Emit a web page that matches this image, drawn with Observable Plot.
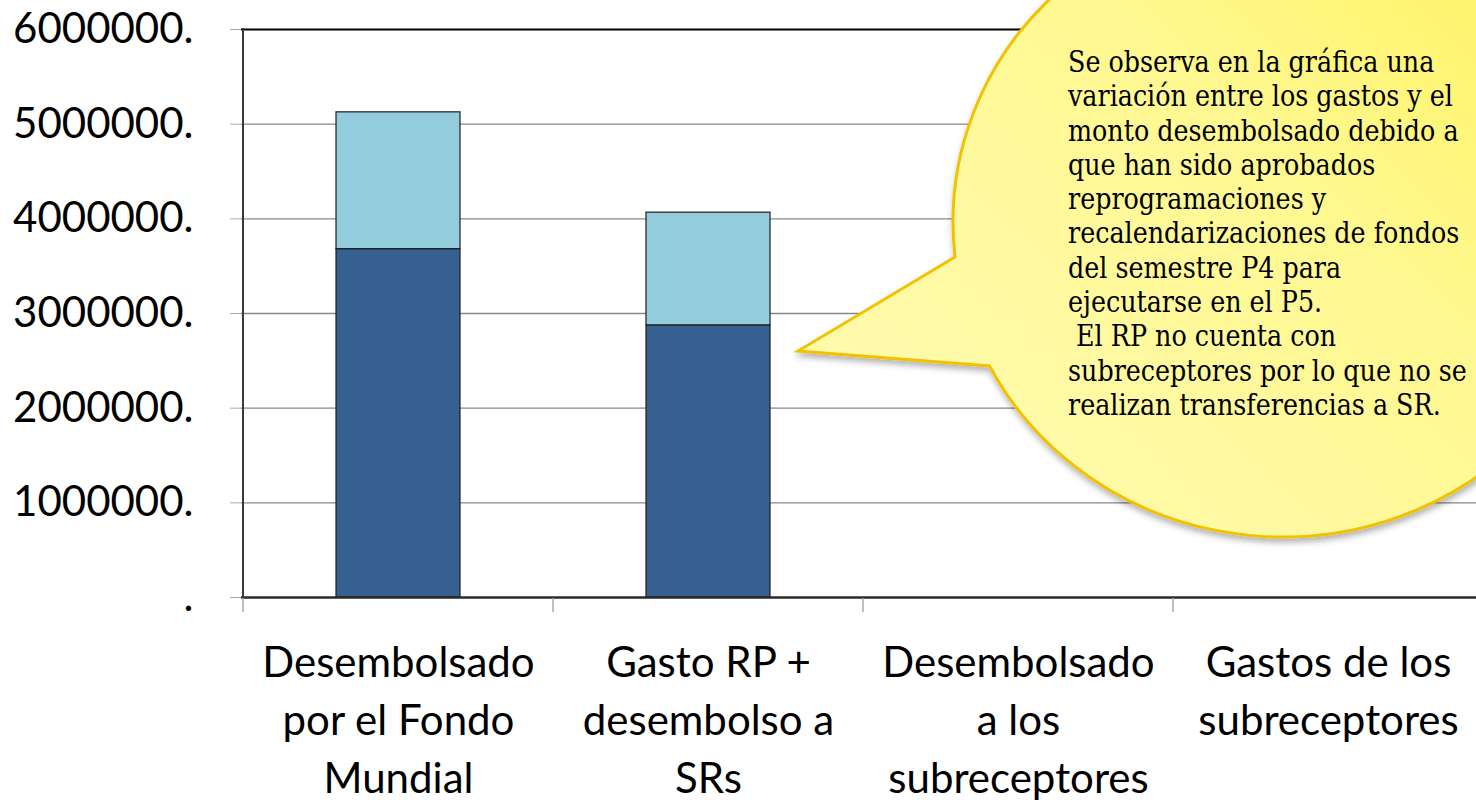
<!DOCTYPE html>
<html>
<head>
<meta charset="utf-8">
<script src="https://cdn.jsdelivr.net/npm/d3@7"></script>
<script src="https://cdn.jsdelivr.net/npm/@observablehq/plot@0.6"></script>
<style>
  html, body { margin: 0; padding: 0; background: #fff; }
  #chart { width: 1476px; height: 800px; overflow: hidden; }
</style>
</head>
<body>
<div id="chart"></div>
<script>
// ---- data ----
const categories = [
  "Desembolsado por el Fondo Mundial",
  "Gasto RP + desembolso a SRs",
  "Desembolsado a los subreceptores",
  "Gastos de los subreceptores"
];
const categoryLabels = [
  "Desembolsado\npor el Fondo\nMundial",
  "Gasto RP +\ndesembolso a\nSRs",
  "Desembolsado\na los\nsubreceptores",
  "Gastos de los\nsubreceptores"
];
const seriesNames = ["Serie 1", "Serie 2"];
const series1Values = [3680000, 2875000, 0, 0];
const series2Values = [1445000, 1190000, 0, 0];
const yTicks = [0, 1000000, 2000000, 3000000, 4000000, 5000000, 6000000];
const calloutLines = [
  "Se observa en la gráfica una",
  "variación entre los gastos y el",
  "monto desembolsado debido a",
  "que han sido aprobados",
  "reprogramaciones y",
  "recalendarizaciones de fondos",
  "del semestre P4 para",
  "ejecutarse en el P5.",
  " El RP no cuenta con",
  "subreceptores por lo que no se",
  "realizan transferencias a SR."
];

const rows = categories.flatMap((c, i) => [
  {cat: c, serie: seriesNames[0], value: series1Values[i]},
  {cat: c, serie: seriesNames[1], value: series2Values[i]}
]);

const FONT = "Lato, 'Open Sans', sans-serif";

const plot = Plot.plot({
  width: 1476,
  height: 800,
  marginTop: 29,
  marginBottom: 203,
  marginLeft: 241,
  marginRight: 0,
  style: {background: "#fff", fontFamily: FONT, overflow: "hidden"},
  x: {domain: categories, range: [241, 1484], paddingInner: 0.6, paddingOuter: 0.3, axis: null},
  y: {domain: [0, 6000000], axis: null},
  color: {domain: seriesNames, range: ["#36608F", "#93CCDC"]},
  marks: [
    Plot.gridY(yTicks.filter(d => d > 0 && d < 6000000), {stroke: "#888", strokeOpacity: 1, strokeWidth: 1.3}),
    Plot.axisY({
      ticks: yTicks,
      tickFormat: d => d === 0 ? "." : `${d}.`,
      tickSize: 11,
      tickPadding: 37,
      fontSize: 42,
      fontFamily: FONT,
      stroke: "#aaa",
      fill: "#000",
      label: null
    }),
    Plot.barY(rows, {x: "cat", y: "value", fill: "serie", stroke: "#1e1e1e", strokeWidth: 1.2, order: seriesNames}),
    Plot.ruleY([6000000], {stroke: "#000", strokeWidth: 2}),
    Plot.ruleY([0], {stroke: "#2a2a2a", strokeWidth: 2.5}),
    Plot.text(categories, {
      x: d => d,
      y: () => 0,
      text: (d, i) => categoryLabels[i],
      lineAnchor: "top",
      dy: 38,
      lineHeight: 1.38,
      fontSize: 42,
      fontFamily: FONT,
      fill: "#000"
    })
  ]
});

document.getElementById("chart").appendChild(plot);

// ---- frame details via the plot's own scales ----
const svg = d3.select(plot);
const xs = plot.scale("x");
const ys = plot.scale("y");
const y0 = ys.apply(0), yTop = ys.apply(6000000);
const step = xs.step ?? (xs.range[1] - xs.range[0]) / (categories.length - 0.6 + 0.6);
const bw = xs.bandwidth ?? step * 0.4;
const firstEdge = xs.apply(categories[0]) - (step - bw) / 2;

const deco = svg.append("g");
deco.append("line").attr("x1", firstEdge).attr("x2", firstEdge).attr("y1", yTop - 1).attr("y2", y0 + 1)
  .attr("stroke", "#3a3a3a").attr("stroke-width", 2);
for (let i = 0; i <= categories.length; i++) {
  const xb = firstEdge + i * step;
  deco.append("line").attr("x1", xb).attr("x2", xb).attr("y1", y0 + 1).attr("y2", y0 + 15)
    .attr("stroke", "#aaa").attr("stroke-width", 1.5);
}

// ---- callout bubble (annotation) ----
const cx = 1283, cy = 222, rx = 330, ry = 315;
const tip = [798, 351];
const yUp = 257, yLow = 366;
const xOn = y => cx - rx * Math.sqrt(1 - ((y - cy) / ry) ** 2);
const p1 = [xOn(yUp), yUp], p2 = [xOn(yLow), yLow];
const defs = svg.append("defs");
const grad = defs.append("linearGradient").attr("id", "bubbleGrad")
  .attr("x1", "0%").attr("y1", "90%").attr("x2", "100%").attr("y2", "10%");
grad.append("stop").attr("offset", "0%").attr("stop-color", "#FFFBB4");
grad.append("stop").attr("offset", "60%").attr("stop-color", "#FFF890");
grad.append("stop").attr("offset", "100%").attr("stop-color", "#FFF25C");
const filt = defs.append("filter").attr("id", "bubbleShadow").attr("x", "-10%").attr("y", "-10%").attr("width", "130%").attr("height", "130%");
filt.append("feDropShadow").attr("dx", 1).attr("dy", 4).attr("stdDeviation", 3)
  .attr("flood-color", "#000").attr("flood-opacity", 0.3);

const path = `M${p1[0]},${p1[1]} L${tip[0]},${tip[1]} L${p2[0]},${p2[1]} A${rx},${ry} 0 1 0 ${p1[0]},${p1[1]} Z`;
svg.append("path").attr("d", path)
  .attr("fill", "url(#bubbleGrad)")
  .attr("stroke", "#F2C100").attr("stroke-width", 3).attr("stroke-linejoin", "miter")
  .attr("filter", "url(#bubbleShadow)");

const tg = svg.append("g");
const txt = tg.append("text")
  .attr("font-family", "'DejaVu Serif', serif")
  .attr("font-size", 29)
  .attr("fill", "#000")
  .attr("text-anchor", "start")
  .style("white-space", "pre");
calloutLines.forEach((line, i) => {
  txt.append("tspan").attr("x", 0).attr("y", 72 + i * 34.3).text(line);
});
const widest = d3.max(txt.selectAll("tspan").nodes(), n => n.getComputedTextLength());
const sx = 399 / widest;
tg.attr("transform", `translate(1068,0) scale(${sx},1)`);
</script>
</body>
</html>
